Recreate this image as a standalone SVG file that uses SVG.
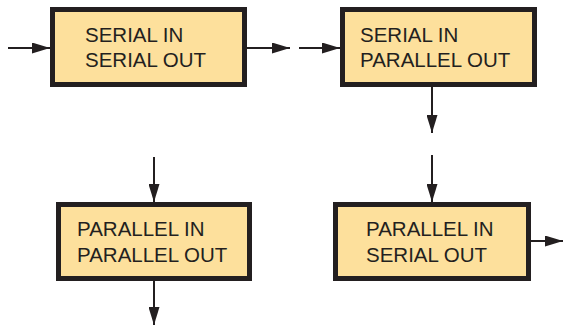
<svg xmlns="http://www.w3.org/2000/svg" width="563" height="327" viewBox="0 0 563 327">
<style>
.box{fill:#FDE09C;stroke:#231F20;stroke-width:5}
.lbl{font-family:"Liberation Sans",Arial,sans-serif;font-size:20.5px;fill:#231F20}
.conn{stroke:#231F20;stroke-width:2;fill:none}
</style>
<defs>
<marker id="ah" markerUnits="userSpaceOnUse" markerWidth="18" markerHeight="11" refX="18" refY="5.5" orient="auto">
<path d="M0,0 L18,5.5 L0,11 z" fill="#231F20"/>
</marker>
</defs>
<g id="connectors">
<line class="conn" x1="8" y1="48" x2="50" y2="48" marker-end="url(#ah)"/>
<line class="conn" x1="247" y1="48" x2="290" y2="48" marker-end="url(#ah)"/>
<line class="conn" x1="299" y1="48" x2="340" y2="48" marker-end="url(#ah)"/>
<line class="conn" x1="432" y1="87" x2="432" y2="133" marker-end="url(#ah)"/>
<line class="conn" x1="154" y1="157" x2="154" y2="202" marker-end="url(#ah)"/>
<line class="conn" x1="154" y1="281" x2="154" y2="325" marker-end="url(#ah)"/>
<line class="conn" x1="432" y1="155" x2="432" y2="202" marker-end="url(#ah)"/>
<line class="conn" x1="531" y1="241" x2="563" y2="241" marker-end="url(#ah)"/>
</g>
<g id="siso">
<rect class="box" x="52.5" y="9.5" width="192" height="75"/>
<text class="lbl" x="85" y="42">SERIAL IN</text>
<text class="lbl" x="85" y="67">SERIAL OUT</text>
</g>
<g id="sipo">
<rect class="box" x="342.5" y="9.5" width="192" height="75"/>
<text class="lbl" x="360" y="42">SERIAL IN</text>
<text class="lbl" x="360" y="67">PARALLEL OUT</text>
</g>
<g id="pipo">
<rect class="box" x="58.5" y="204.5" width="191" height="74"/>
<text class="lbl" x="77" y="236">PARALLEL IN</text>
<text class="lbl" x="77" y="262">PARALLEL OUT</text>
</g>
<g id="piso">
<rect class="box" x="335.5" y="204.5" width="193" height="74"/>
<text class="lbl" x="366" y="236">PARALLEL IN</text>
<text class="lbl" x="366" y="262">SERIAL OUT</text>
</g>
</svg>
